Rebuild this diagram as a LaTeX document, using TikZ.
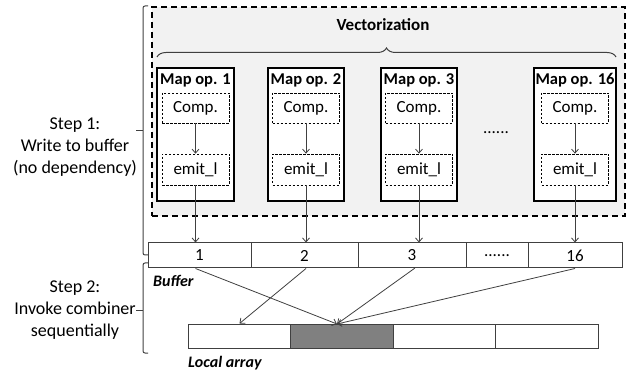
\documentclass[tikz,border=0pt]{standalone}
\usepackage{fontspec}
\setmainfont{Carlito}
\usetikzlibrary{decorations.pathreplacing,arrows.meta}
\definecolor{edge}{HTML}{404040}
\definecolor{panel}{HTML}{F2F2F2}
\definecolor{cellgray}{HTML}{808080}
\tikzset{
  txt/.style={font=\fontsize{17}{20}\selectfont},
  vecbox/.style={draw=black, line width=1.5pt, dash pattern=on 6pt off 4pt, fill=panel, inner sep=0pt},
  mapbox/.style={draw=black, line width=1.4pt, fill=white, inner sep=0pt, minimum height=133pt},
  innerbox/.style={draw=black, line width=0.7pt, dash pattern=on 2.5pt off 1.5pt, fill=white, inner sep=0pt, minimum width=67pt, minimum height=30pt, font=\fontsize{17}{20}\selectfont},
  cell/.style={draw=edge, line width=1pt, fill=white, inner sep=0pt, minimum height=25pt, font=\fontsize{17}{20}\selectfont},
  lcell/.style={draw=edge, line width=1pt, fill=white, inner sep=0pt, minimum height=24pt, minimum width=102.5pt},
  maptitle/.style={font=\bfseries\fontsize{16.5}{20}\selectfont, inner sep=0pt},
  arr/.style={draw=edge, line width=0.8pt, -{Straight Barb[length=4pt,width=7pt]}},
  bracketline/.style={draw=edge, line width=1pt, rounded corners=2pt},
}
\begin{document}
\begin{tikzpicture}[x=1pt,y=-1pt]
\useasboundingbox (0,0) rectangle (626,371);
% outer vectorization panel
\node[vecbox, minimum width=473pt, minimum height=209pt] (vec) at (388.5,111.5) {};
\node[font=\bfseries\fontsize{17}{20}\selectfont] (vectitle) at (383,25) {Vectorization};
\draw[edge, line width=1pt, decorate, decoration={brace, amplitude=9pt}] (157,57) -- (616,57);
% map operators
\foreach \n/\x/\w in {1/195.5/77, 2/306/76, 3/419/76, 16/575/82} {
  \node[mapbox, minimum width=\w pt] (m\n) at (\x,134.5) {};
  \node[maptitle] (t\n) at (\x,80) {Map op. \n};
  \node[innerbox] (c\n) at (\x,108) {Comp.};
  \node[innerbox, minimum height=31pt] (e\n) at (\x,169.5) {emit\_l};
  \draw[arr] (c\n) -- (e\n);
}
\node[txt] (dots) at (496,133) {......};
% buffer
\node[cell, minimum width=103pt] (b1) at (199.5,255.5) {1};
\node[cell, minimum width=107pt] (b2) at (304.5,255.5) {2};
\node[cell, minimum width=108pt] (b3) at (412,255.5) {3};
\node[cell, minimum width=62pt] (bd) at (497,255.5) {......};
\node[cell, minimum width=94pt] (b16) at (575,255.5) {16};
\foreach \n in {1,2,3,16} {
  \draw[arr] (e\n.south) -- (e\n.south |- b\n.north);
}
\node[font=\bfseries\itshape\fontsize{16}{20}\selectfont, anchor=west, inner sep=0pt] (buflabel) at (153,281) {Buffer};
% local array
\node[lcell] (l1) at (239.5,336) {};
\node[lcell, fill=cellgray] (l2) at (342,336) {};
\node[lcell] (l3) at (444.5,336) {};
\node[lcell] (l4) at (547,336) {};
\node[font=\bfseries\itshape\fontsize{16}{20}\selectfont, anchor=west, inner sep=0pt] (larlabel) at (188,363) {Local array};
\coordinate (tgt) at (337,324);
\draw[arr] (e1.south |- b1.south) -- (tgt);
\draw[arr] (e2.south |- b2.south) -- (l1.north);
\draw[arr] (415,268) -- (tgt);
\draw[arr] (e16.south |- b16.south) -- (tgt);
% step brackets
\draw[bracketline] (148,6) -- (143,6) -- (143,255) -- (148,255);
\draw[edge, line width=1pt] (143,131) -- (136,131);
\draw[bracketline] (148,263) -- (143,263) -- (143,353) -- (148,353);
\draw[edge, line width=1pt] (143,310) -- (136,310);
\node[align=center, font=\fontsize{18}{22}\selectfont] (step1) at (75,147) {Step 1:\\Write to buffer\\(no dependency)};
\node[align=center, font=\fontsize{18}{22}\selectfont] (step2) at (75,310) {Step 2:\\Invoke combiner\\sequentially};
\end{tikzpicture}
\end{document}
